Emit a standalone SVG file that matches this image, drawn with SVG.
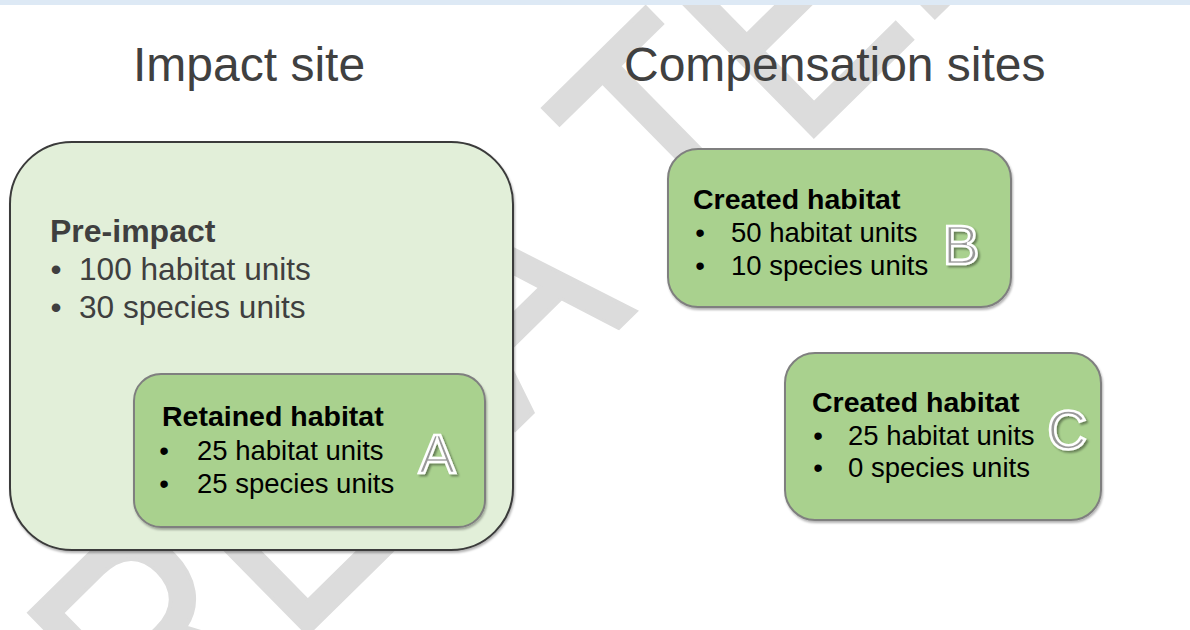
<svg xmlns="http://www.w3.org/2000/svg" width="1190" height="630" viewBox="0 0 1190 630">
  <defs>
    <filter id="boxShadow" x="-5%" y="-5%" width="112%" height="115%">
      <feDropShadow dx="1" dy="2" stdDeviation="1.2" flood-color="#000" flood-opacity="0.3"/>
    </filter>
    <filter id="tagShadow" x="-20%" y="-20%" width="150%" height="150%">
      <feDropShadow dx="2" dy="2" stdDeviation="1.2" flood-color="#000" flood-opacity="0.4"/>
    </filter>
    <style>
      text { font-family: "Liberation Sans", Arial, sans-serif; }
      .mark { font-size: 305px; fill: #dcdcdc; stroke: #dcdcdc; stroke-width: 4; stroke-linejoin: miter; }
      .title { font-size: 48px; fill: #404040; }
      .outer { fill: #e2efd9; stroke: #3b3b3b; stroke-width: 2; filter: url(#boxShadow); }
      .inner { fill: #a9d18e; stroke: #7f7f7f; stroke-width: 2; filter: url(#boxShadow); }
      .h-outer { font-size: 32px; font-weight: bold; fill: #3f3f3f; }
      .t-outer { font-size: 31.6px; fill: #3f3f3f; }
      .h-inner { font-size: 28.5px; font-weight: bold; fill: #000; }
      .t-inner { font-size: 27.5px; fill: #000; }
      .bul { text-anchor: middle; }
      .tag { font-size: 55px; fill: #999; stroke: #fff; stroke-width: 2.6; text-anchor: middle; filter: url(#tagShadow); }
    </style>
  </defs>

  <rect width="1190" height="630" fill="#fff"/>

  <!-- background watermark, condensed and set on the diagonal -->
  <text class="mark" transform="translate(813,137) rotate(-44.5) scale(0.836,1)" x="-1093 -873 -670 -500 -213 -24 179" y="0">RELATED</text>

  <!-- top strip -->
  <rect width="1190" height="5" fill="#dde9f5"/>

  <!-- column headings -->
  <text class="title" x="133" y="81">Impact site</text>
  <text class="title" x="624" y="81">Compensation sites</text>

  <!-- impact site: pre-impact state -->
  <g id="pre-impact">
    <rect class="outer" x="10" y="142" width="503" height="408" rx="62" ry="62"/>
    <text class="h-outer" x="50" y="242">Pre-impact</text>
    <text class="t-outer bul" x="56" y="280">•</text>
    <text class="t-outer" x="79" y="280">100 habitat units</text>
    <text class="t-outer bul" x="56" y="318">•</text>
    <text class="t-outer" x="79" y="318">30 species units</text>
  </g>

  <!-- A: retained habitat -->
  <g id="retained-a">
    <rect class="inner" x="134" y="374" width="351" height="153" rx="27" ry="27"/>
    <text class="h-inner" x="162" y="426">Retained habitat</text>
    <text class="t-inner bul" x="164" y="460">•</text>
    <text class="t-inner" x="197" y="460">25 habitat units</text>
    <text class="t-inner bul" x="164" y="493">•</text>
    <text class="t-inner" x="197" y="493">25 species units</text>
    <text class="tag" x="437" y="473">A</text>
  </g>

  <!-- B: created habitat -->
  <g id="created-b">
    <rect class="inner" x="668" y="149" width="343" height="158" rx="30" ry="30"/>
    <text class="h-inner" x="693" y="209">Created habitat</text>
    <text class="t-inner bul" x="700" y="242">•</text>
    <text class="t-inner" x="731" y="242">50 habitat units</text>
    <text class="t-inner bul" x="700" y="275">•</text>
    <text class="t-inner" x="731" y="275">10 species units</text>
    <text class="tag" x="961" y="264">B</text>
  </g>

  <!-- C: created habitat -->
  <g id="created-c">
    <rect class="inner" x="785" y="353" width="316" height="167" rx="30" ry="30"/>
    <text class="h-inner" x="812" y="412">Created habitat</text>
    <text class="t-inner bul" x="818" y="445">•</text>
    <text class="t-inner" x="848" y="445">25 habitat units</text>
    <text class="t-inner bul" x="818" y="477">•</text>
    <text class="t-inner" x="848" y="477">0 species units</text>
    <text class="tag" x="1067" y="449">C</text>
  </g>
</svg>
